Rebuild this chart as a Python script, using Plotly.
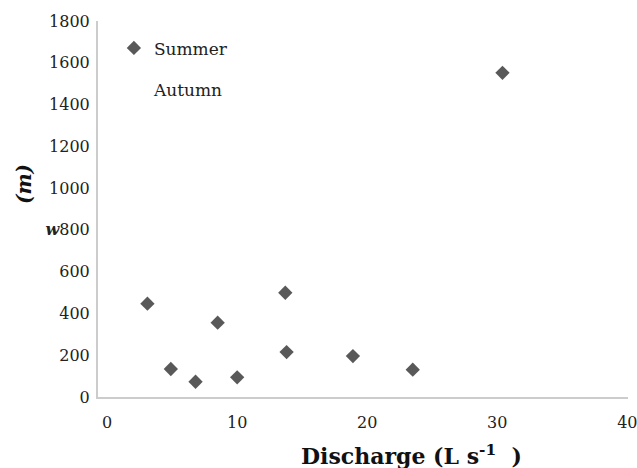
import plotly.graph_objects as go

# Data
discharge = [3.1, 4.9, 6.8, 8.5, 10.0, 13.7, 13.8, 18.9, 23.5, 30.4]
values = [447, 134, 73, 356, 94, 499, 215, 196, 131, 1552]
series_names = ["Summer", "Autumn"]
x_ticks = [0, 10, 20, 30, 40]
y_ticks = [0, 200, 400, 600, 800, 1000, 1200, 1400, 1600, 1800]
y_ticktext = ["0", "200", "400", "600", "<b><i>w</i></b>800", "1000", "1200", "1400", "1600", "1800"]

serif = "DejaVu Serif"

fig = go.Figure()
fig.add_trace(go.Scatter(
    x=discharge, y=values, mode="markers", name=series_names[0],
    legendgroup="a",
    marker=dict(symbol="diamond", size=11, color="#595959"),
))
fig.add_trace(go.Scatter(
    x=[None], y=[None], mode="markers", name=series_names[1],
    legendgroup="b",
    marker=dict(symbol="diamond", size=11, color="rgba(0,0,0,0)"),
))

fig.update_layout(
    width=637, height=468,
    margin=dict(l=98, r=9, t=21, b=71, autoexpand=False),
    paper_bgcolor="white", plot_bgcolor="white",
    font=dict(family=serif, color="#222222"),
    showlegend=True,
    legend=dict(
        x=0.03, y=0.975, xanchor="left", yanchor="top",
        font=dict(family=serif, size=17, color="#222222"),
        bgcolor="rgba(0,0,0,0)", tracegroupgap=16,
    ),
    xaxis=dict(
        range=[-0.7, 40.05], tickvals=x_ticks, ticktext=[str(v) for v in x_ticks],
        showgrid=False, zeroline=False, showline=True, linecolor="#cccccc", linewidth=2,
        ticks="", ticklabelstandoff=10, ticklabeloverflow="allow", automargin=False,
        tickfont=dict(family=serif, size=16, color="#222222"),
    ),
    yaxis=dict(
        range=[0, 1800], tickvals=y_ticks, ticktext=y_ticktext,
        showgrid=False, zeroline=False, showline=True, linecolor="#cccccc", linewidth=2,
        ticks="", ticklabelstandoff=3, automargin=False,
        tickfont=dict(family=serif, size=16, color="#222222"),
    ),
    annotations=[
        dict(text="<b>Discharge (L s<sup>-1</sup>  )</b>", xref="paper", yref="paper",
             x=(411 - 98) / 530, y=-(455 - 397) / 376, xanchor="center", yanchor="middle",
             showarrow=False, font=dict(family=serif, size=22, color="#111111")),
        dict(text="<b><i>(m)</i></b>", xref="paper", yref="paper",
             x=-(98 - 24) / 530, y=(397 - 184) / 376, xanchor="center", yanchor="middle",
             textangle=-90, showarrow=False, font=dict(family=serif, size=20, color="#111111")),
    ],
)

fig.write_html("out.html")
